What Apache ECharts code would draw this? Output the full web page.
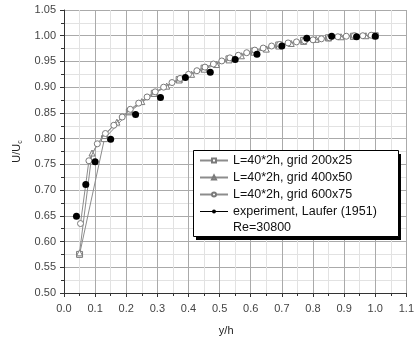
<!DOCTYPE html>
<html>
<head>
<meta charset="utf-8">
<script src="https://cdn.jsdelivr.net/npm/echarts@6/dist/echarts.min.js"></script>
<style>
  html, body { margin: 0; padding: 0; background: #fff; }
  #chart { width: 417px; height: 341px; }
</style>
</head>
<body>
<div id="chart"></div>
<script>
// grid 200x25 (squares)
const grid200X = [0.05, 0.13, 0.21, 0.29, 0.37, 0.45, 0.53, 0.61, 0.69, 0.77, 0.85, 0.93, 1.0];
const grid200Y = [0.575, 0.80, 0.852, 0.888, 0.915, 0.937, 0.955, 0.970, 0.982, 0.991, 0.996, 0.999, 1.0];

// grid 400x50 (triangles)
const grid400X = [0.05, 0.09, 0.13, 0.17, 0.21, 0.25, 0.29, 0.33, 0.37, 0.41, 0.45, 0.49, 0.53, 0.57, 0.61, 0.65, 0.69, 0.73, 0.77, 0.81, 0.85, 0.89, 0.93, 0.97];
const grid400Y = [0.578, 0.772, 0.806, 0.832, 0.854, 0.872, 0.888, 0.902, 0.914, 0.925, 0.935, 0.944, 0.953, 0.961, 0.968, 0.974, 0.980, 0.985, 0.989, 0.993, 0.996, 0.998, 0.999, 1.0];

// grid 600x75 (circles)
const grid600X = [0.053, 0.08, 0.107, 0.133, 0.16, 0.187, 0.213, 0.24, 0.267, 0.293, 0.32, 0.347, 0.373, 0.40, 0.427, 0.453, 0.48, 0.507, 0.533, 0.56, 0.587, 0.613, 0.64, 0.667, 0.693, 0.72, 0.747, 0.773, 0.80, 0.827, 0.853, 0.88, 0.907, 0.933, 0.96, 0.987];
const grid600Y = [0.635, 0.757, 0.79, 0.81, 0.826, 0.842, 0.857, 0.869, 0.881, 0.891, 0.900, 0.909, 0.917, 0.925, 0.932, 0.939, 0.945, 0.951, 0.957, 0.962, 0.967, 0.972, 0.976, 0.980, 0.983, 0.986, 0.988, 0.990, 0.992, 0.994, 0.996, 0.998, 0.999, 1.0, 1.0, 1.001];

// experiment, Laufer (1951)
const expX = [0.04, 0.07, 0.10, 0.15, 0.23, 0.31, 0.39, 0.47, 0.55, 0.62, 0.70, 0.78, 0.86, 0.94, 1.0];
const expY = [0.649, 0.711, 0.755, 0.799, 0.847, 0.880, 0.919, 0.929, 0.954, 0.964, 0.980, 0.995, 0.999, 0.998, 0.999];

const zip = (xs, ys) => xs.map((x, i) => [x, ys[i]]);

const simLine = { color: "#8c8c8c", width: 1 };
const openMarker = { color: "#fff", borderColor: "#7a7a7a", borderWidth: 1 };
const font = "Liberation Sans, Arial, sans-serif";

const chart = echarts.init(document.getElementById("chart"), null, { renderer: "canvas" });

chart.setOption({
  animation: false,
  backgroundColor: "#fff",
  textStyle: { fontFamily: font },
  grid: { left: 64, right: 4, top: 10, bottom: 48 },
  xAxis: {
    type: "value",
    min: 0,
    max: 1.1,
    interval: 0.1,
    name: "y/h",
    nameLocation: "middle",
    nameGap: 32,
    nameTextStyle: { color: "#222", fontSize: 11, padding: [0, 18, 0, 0] },
    axisLine: { onZero: false, lineStyle: { color: "#333", width: 1 } },
    axisTick: { length: 4, lineStyle: { color: "#333" } },
    minorTick: { show: true, splitNumber: 2, length: 3, lineStyle: { color: "#333" } },
    axisLabel: { color: "#444", fontSize: 11, margin: 10, formatter: (v) => v.toFixed(1) },
    splitLine: { lineStyle: { color: "#aaaaaa", width: 1 } },
    minorSplitLine: { show: true, lineStyle: { color: "#e2e2e2", width: 1 } },
  },
  yAxis: {
    type: "value",
    min: 0.5,
    max: 1.05,
    interval: 0.05,
    name: "U/U{s|c}",
    nameLocation: "middle",
    nameGap: 40,
    nameTextStyle: {
      color: "#222",
      fontSize: 11,
      rich: { s: { fontSize: 7, color: "#222", padding: [6, 0, 0, 0] } },
    },
    axisLine: { show: true, onZero: false, lineStyle: { color: "#333", width: 1 } },
    axisTick: { length: 4, lineStyle: { color: "#333" } },
    minorTick: { show: true, splitNumber: 2, length: 3, lineStyle: { color: "#333" } },
    axisLabel: { color: "#444", fontSize: 11, margin: 8, formatter: (v) => v.toFixed(2) },
    splitLine: { lineStyle: { color: "#aaaaaa", width: 1 } },
    minorSplitLine: { show: true, lineStyle: { color: "#e2e2e2", width: 1 } },
  },
  legend: {
    orient: "vertical",
    left: 193,
    top: 153,
    itemWidth: 28,
    itemHeight: 5,
    itemGap: 2,
    padding: [0, 6, 0, 6],
    z: 20,
    textStyle: { color: "#111", fontSize: 12.5, lineHeight: 15 },
    data: [
      { name: "L=40*2h, grid 200x25" },
      { name: "L=40*2h, grid 400x50" },
      { name: "L=40*2h, grid 600x75" },
      { name: "experiment, Laufer (1951)", lineStyle: { color: "#000", width: 1, opacity: 1 } },
    ],
  },
  graphic: [
    { type: "rect", z: 10, shape: { x: 196, y: 154, width: 205, height: 86 }, style: { fill: "#000" } },
    { type: "rect", z: 11, shape: { x: 193.5, y: 150.5, width: 205, height: 86 }, style: { fill: "#fff", stroke: "#000", lineWidth: 1 } },
    {
      type: "text",
      left: 233,
      top: 221,
      z: 21,
      style: { text: "Re=30800", fill: "#111", font: "12.5px " + font },
    },
  ],
  series: [
    {
      name: "L=40*2h, grid 200x25",
      type: "line",
      data: zip(grid200X, grid200Y),
      symbol: "rect",
      symbolSize: 6,
      lineStyle: simLine,
      itemStyle: openMarker,
      z: 2,
    },
    {
      name: "L=40*2h, grid 400x50",
      type: "line",
      data: zip(grid400X, grid400Y),
      symbol: "triangle",
      symbolSize: 6,
      lineStyle: simLine,
      itemStyle: openMarker,
      z: 3,
    },
    {
      name: "L=40*2h, grid 600x75",
      type: "line",
      data: zip(grid600X, grid600Y),
      symbol: "circle",
      symbolSize: 6,
      lineStyle: simLine,
      itemStyle: openMarker,
      z: 4,
    },
    {
      name: "experiment, Laufer (1951)",
      type: "line",
      data: zip(expX, expY),
      symbol: "circle",
      symbolSize: 7,
      lineStyle: { opacity: 0 },
      itemStyle: { color: "#000" },
      z: 5,
    },
  ],
});
</script>
</body>
</html>
